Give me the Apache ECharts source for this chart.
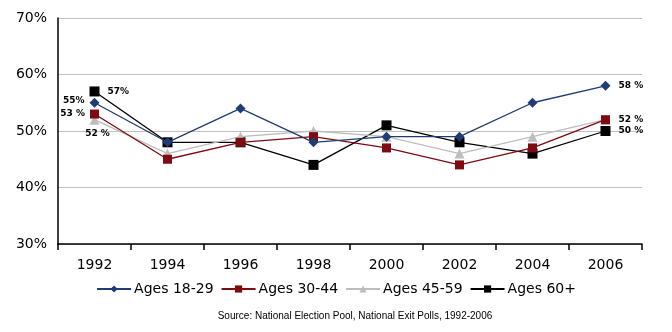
<!DOCTYPE html>
<html><head><meta charset="utf-8">
<script src="https://cdn.jsdelivr.net/npm/echarts@6/dist/echarts.min.js"></script>
<style>html,body{margin:0;padding:0;background:#fff}#c{width:672px;height:332px}</style>
</head><body><div id="c"></div>
<script>
const years = ['1992','1994','1996','1998','2000','2002','2004','2006'];
const ages1829 = [55,48,54,48,49,49,55,58];
const ages3044 = [53,45,48,49,47,44,47,52];
const ages4559 = [52,46,49,50,49,46,49,52];
const ages60 = [57,48,48,44,51,48,46,50];
const yTicks = [30,40,50,60,70];
// end labels: [series index, point index, text, position]
const endLabels = [
  [0,0,'55%','left'],[1,0,'53 %','left'],[2,0,'52 %','bottom'],[3,0,'57%','right'],
  [0,7,'58 %','right'],[2,7,'52 %','right'],[3,7,'50 %','right']
];
const seriesDefs = [
  {name:'Ages 18-29', data:ages1829, color:'#1F3C74', symbol:'diamond', size:10},
  {name:'Ages 30-44', data:ages3044, color:'#7E0A12', symbol:'rect', size:9},
  {name:'Ages 45-59', data:ages4559, color:'#BDBDBD', symbol:'triangle', size:10},
  {name:'Ages 60+', data:ages60, color:'#000000', symbol:'rect', size:10}
];
const series = seriesDefs.map((s,si)=>({
  name:s.name, type:'line', symbol:s.symbol, symbolSize:s.size,
  z: 10-si,
  lineStyle:{color:s.color,width:1.3}, itemStyle:{color:s.color},
  animation:false,
  data:s.data.map((v,i)=>{
    const l = endLabels.find(e=>e[0]===si && e[1]===i);
    if(!l) return v;
    return {value:v, label:{show:true, formatter:l[2], position:l[3],
      distance:l[3]==='bottom'?4:(l[3]==='left'?5:8),
      offset:l[3]==='bottom'?[3,0]:(si===0&&i===0?[0,-2]:[0,0]),
      color:'#000', fontSize:9, fontWeight:'bold', fontFamily:'DejaVu Sans'}};
  })
}));
const chart = echarts.init(document.getElementById('c'));
chart.setOption({
  backgroundColor:'#fff',
  grid:{left:58,right:30,top:18,bottom:88,containLabel:false},
  xAxis:{type:'category',data:years,boundaryGap:true,
    axisLine:{lineStyle:{color:'#000',width:1.5}},
    axisTick:{show:true,length:6,inside:false,lineStyle:{color:'#000',width:1.5}},
    axisLabel:{color:'#000',fontSize:14,fontFamily:'DejaVu Sans',margin:14}},
  yAxis:{type:'value',min:30,max:70,interval:10,
    axisLine:{show:true,lineStyle:{color:'#000',width:1.5}},
    axisTick:{show:false},
    splitLine:{lineStyle:{color:'#C0C0C0',width:1}},
    axisLabel:{color:'#000',fontSize:14,fontFamily:'DejaVu Sans',margin:11,
      formatter:v=>yTicks.includes(v)?v+'%':''}},
  legend:{top:277,left:'center',itemWidth:34,itemHeight:9,itemGap:7,
    textStyle:{color:'#000',fontSize:14,fontFamily:'DejaVu Sans',padding:[0,0,0,-2]},
    data:seriesDefs.map(s=>s.name)},
  title:{text:'Source: National Election Pool, National Exit Polls, 1992-2006',left:350,textAlign:'center',top:306,
    textStyle:{fontSize:10,fontWeight:'normal',fontFamily:'Liberation Sans',color:'#000'}},
  series:series
});
</script></body></html>
